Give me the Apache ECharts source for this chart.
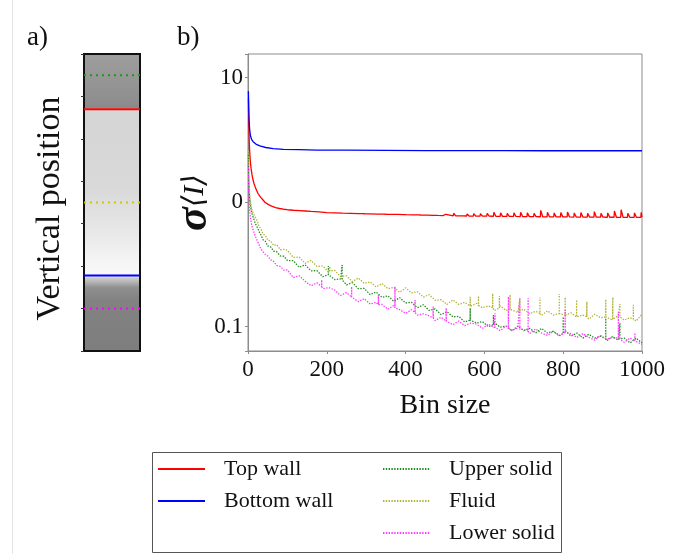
<!DOCTYPE html>
<html>
<head>
<meta charset="utf-8">
<script src="https://cdn.jsdelivr.net/npm/echarts@6/dist/echarts.min.js"></script>
<style>
html,body{margin:0;padding:0;background:#fff;}
#main{width:673px;height:554px;}
</style>
</head>
<body>
<div id="main"></div>
<script>
// ---------- DATA ----------
const seriesNames = ['Top wall', 'Bottom wall', 'Upper solid', 'Fluid', 'Lower solid'];
const xTickRange = [0, 1000, 200];
const yTickValues = [0.1, 1, 10];
const yTickLabels = ['0.1', '0', '10'];

// panel a: vertical positions (axis units 0..7, bottom = 0) of each marker line
const stripPositions = {
  'Top wall': 5.7,
  'Bottom wall': 1.78,
  'Upper solid': 6.5,
  'Fluid': 3.5,
  'Lower solid': 1.0
};

// panel b: [bin size, sigma]
const bottomWall = [[1,7.8],[2,5.4],[3,4.4],[4,3.9],[6,3.45],[9,3.2],[13,3.06],[20,2.93],[30,2.83],[45,2.75],[64,2.69],[90,2.66],[130,2.64],[175,2.62],[250,2.615],[350,2.61],[450,2.6],[550,2.6],[650,2.6],[750,2.59],[850,2.59],[950,2.595],[1000,2.59]];

const topWall = [[1,6.8],[2,4.2],[3,3.2],[4,2.65],[5,2.35],[6,2.1],[8,1.85],[10,1.68],[12,1.55],[15,1.42],[20,1.28],[25,1.18],[30,1.12],[36,1.06],[43,1.0],[51,0.96],[60,0.93],[70,0.905],[80,0.89],[90,0.878],[100,0.87],[115,0.862],[130,0.856],[145,0.85],[160,0.843],[180,0.835],[200,0.826],[220,0.821],[240,0.816],[260,0.813],[280,0.81],[290,0.809],[292,0.826],[296,0.808],[310,0.806],[330,0.803],[345,0.801],[347,0.816],[351,0.8],[365,0.799],[380,0.797],[395,0.795],[397,0.812],[401,0.794],[420,0.792],[432,0.79],[434,0.808],[438,0.789],[455,0.787],[470,0.785],[476,0.784],[478,0.802],[482,0.783],[495,0.781],[500,0.78],[502,0.8],[506,0.779],
[521,0.778],[522,0.815],[527,0.777],[538,0.776],[539,0.80],[544,0.776],[555,0.775],[556,0.805],[561,0.775],[572,0.774],[573,0.81],[578,0.774],[589,0.773],[590,0.81],[595,0.773],[606,0.772],[607,0.815],[612,0.772],[623,0.771],[624,0.83],[629,0.771],[640,0.77],[641,0.82],[646,0.77],[657,0.769],[658,0.815],[663,0.769],[674,0.768],[675,0.82],[680,0.768],[691,0.767],[692,0.83],[697,0.767],[708,0.766],[709,0.82],[714,0.766],[725,0.765],[726,0.815],[731,0.765],[742,0.764],[743,0.86],[748,0.764],[759,0.763],[760,0.83],[765,0.763],[776,0.762],[777,0.82],[782,0.762],[793,0.762],[794,0.825],[799,0.762],[810,0.761],[811,0.835],[816,0.761],[827,0.76],[828,0.82],[833,0.76],[844,0.76],[845,0.825],[850,0.76],[861,0.759],[862,0.815],[867,0.759],[878,0.758],[879,0.84],[884,0.758],[895,0.758],[896,0.815],[901,0.758],[912,0.757],[913,0.82],[918,0.757],[929,0.757],[930,0.85],[935,0.757],[946,0.756],[947,0.87],[952,0.756],[963,0.756],[964,0.815],[969,0.756],[980,0.755],[981,0.82],[986,0.755],[997,0.755],[998,0.83],[1000,0.76]];

const upperSolid = [[1,2.4],[2,1.45],[3,1.2],[4,1.08],[6,0.95],[8,0.87],[10,0.81],[13,0.76],[16,0.71],[20,0.66],[24,0.625],[28,0.58],[33,0.545],[38,0.5],[44,0.485],[50,0.445],[57,0.44],[65,0.405],[73,0.40],[82,0.37],[91,0.368],
[100,0.340],[115,0.339],[130,0.300],[145,0.314],[160,0.281],[175,0.282],[190,0.252],[204,0.262],[204,0.307],[204,0.262],[205,0.266],[220,0.239],[235,0.242],[239,0.238],[239,0.313],[239,0.238],[250,0.217],[265,0.226],[280,0.202],[295,0.203],[310,0.181],[325,0.190],[340,0.172],[355,0.177],[370,0.160],[385,0.171],[400,0.155],[415,0.157],[430,0.142],[445,0.150],[460,0.135],[475,0.139],[490,0.125],[505,0.132],[520,0.120],[535,0.121],[550,0.109],[564,0.113],[564,0.141],[564,0.113],[565,0.116],[580,0.107],[595,0.110],[610,0.100],[623,0.104],[623,0.124],[623,0.104],[625,0.108],[640,0.099],[655,0.101],[670,0.093],[685,0.101],[700,0.093],[715,0.097],[730,0.089],[745,0.097],[760,0.089],[775,0.092],[790,0.085],[800,0.088],[800,0.12],[800,0.088],[805,0.093],[820,0.084],[835,0.089],[850,0.081],[865,0.087],[880,0.081],[895,0.084],[908,0.08],[908,0.117],[908,0.08],[910,0.077],[925,0.083],[940,0.078],[944,0.08],[944,0.107],[944,0.08],[955,0.081],[970,0.074],[985,0.081],[1000,0.074]];

const fluid = [[1,2.6],[2,1.6],[3,1.3],[4,1.18],[6,1.02],[8,0.93],[10,0.87],[13,0.82],[16,0.78],[20,0.74],[24,0.70],[28,0.64],[33,0.61],[38,0.555],[44,0.54],[50,0.495],[57,0.49],[65,0.45],[73,0.455],[82,0.415],[91,0.418],
[100,0.411],[115,0.360],[130,0.362],[145,0.323],[160,0.341],[175,0.305],[190,0.307],[205,0.273],[208,0.28],[208,0.305],[208,0.28],[220,0.283],[235,0.253],[250,0.256],[265,0.230],[280,0.246],[295,0.223],[310,0.229],[325,0.209],[340,0.222],[355,0.202],[370,0.207],[385,0.189],[400,0.205],[415,0.187],[430,0.191],[445,0.173],[460,0.181],[475,0.163],[490,0.165],[505,0.151],[520,0.164],[535,0.151],[550,0.157],[564,0.146],[564,0.174],[564,0.146],[565,0.144],[580,0.154],[585,0.148],[585,0.176],[585,0.148],[595,0.142],[610,0.147],[621,0.142],[621,0.185],[621,0.142],[625,0.135],[638,0.141],[638,0.176],[638,0.141],[640,0.147],[655,0.135],[665,0.138],[665,0.18],[665,0.138],[670,0.140],[685,0.130],[690,0.134],[690,0.169],[690,0.134],[700,0.138],[715,0.127],[730,0.133],[741,0.128],[741,0.172],[741,0.128],[745,0.123],[760,0.134],[775,0.124],[790,0.128],[790,0.183],[790,0.128],[805,0.124],[805,0.172],[805,0.124],[820,0.129],[834,0.12],[834,0.164],[834,0.12],[835,0.119],[850,0.124],[860,0.12],[860,0.159],[860,0.12],[865,0.115],[880,0.126],[895,0.118],[908,0.12],[908,0.166],[908,0.12],[910,0.123],[925,0.113],[926,0.115],[926,0.172],[926,0.115],[940,0.123],[944,0.12],[944,0.152],[944,0.12],[955,0.113],[970,0.118],[978,0.115],[978,0.15],[978,0.115],[985,0.111],[1000,0.126]];

const lowerSolid = [[1,2.0],[2,1.2],[3,0.98],[4,0.88],[6,0.76],[8,0.69],[10,0.64],[13,0.6],[16,0.56],[20,0.52],[24,0.485],[28,0.455],[33,0.42],[38,0.41],[44,0.38],[50,0.37],[57,0.345],[65,0.335],[73,0.31],[82,0.305],[91,0.285],
[100,0.286],[115,0.248],[130,0.257],[145,0.232],[160,0.213],[175,0.225],[187,0.21],[187,0.237],[187,0.21],[190,0.202],[205,0.206],[220,0.197],[235,0.178],[250,0.188],[263,0.173],[263,0.21],[263,0.173],[265,0.171],[280,0.159],[295,0.168],[310,0.152],[325,0.157],[331,0.15],[331,0.18],[331,0.15],[340,0.151],[355,0.138],[370,0.148],[373,0.142],[373,0.21],[373,0.142],[385,0.137],[400,0.128],[415,0.137],[424,0.13],[424,0.164],[424,0.13],[430,0.124],[445,0.127],[460,0.122],[470,0.118],[470,0.145],[470,0.118],[475,0.112],[490,0.119],[503,0.111],[503,0.141],[503,0.111],[505,0.110],[520,0.104],[535,0.111],[550,0.102],[565,0.107],[580,0.105],[595,0.097],[610,0.105],[625,0.098],[627,0.099],[627,0.128],[627,0.099],[640,0.093],[655,0.101],[661,0.097],[661,0.174],[661,0.097],[670,0.093],[685,0.098],[690,0.095],[690,0.169],[690,0.095],[700,0.095],[711,0.092],[711,0.169],[711,0.092],[715,0.088],[730,0.096],[745,0.089],[760,0.085],[775,0.092],[790,0.084],[805,0.09],[805,0.136],[805,0.09],[820,0.088],[835,0.082],[850,0.088],[865,0.082],[880,0.078],[895,0.085],[910,0.079],[925,0.082],[940,0.081],[940,0.132],[940,0.081],[955,0.075],[970,0.081],[982,0.077],[982,0.089],[982,0.077],[985,0.075],[1000,0.072]];

// ---------- STYLE ----------
const serif = "'Liberation Serif', 'DejaVu Serif', serif";
const colors = {
  'Top wall': '#ff0000',
  'Bottom wall': '#0000ff',
  'Upper solid': '#1f8c1f',
  'Fluid': '#b3b336',
  'Lower solid': '#ff3cff'
};
const stripColors = {
  'Top wall': '#ff0000',
  'Bottom wall': '#0000ff',
  'Upper solid': '#1a9a1a',
  'Fluid': '#cccc00',
  'Lower solid': '#ff00ff'
};
const dottedNames = ['Upper solid', 'Fluid', 'Lower solid'];
const plotData = {
  'Top wall': topWall,
  'Bottom wall': bottomWall,
  'Upper solid': upperSolid,
  'Fluid': fluid,
  'Lower solid': lowerSolid
};

const chart = echarts.init(document.getElementById('main'), null, {renderer: 'canvas'});

const plotSeries = seriesNames.map(n => ({
  name: n,
  type: 'line',
  xAxisIndex: 0,
  yAxisIndex: 0,
  data: plotData[n],
  symbol: 'none',
  silent: true,
  z: dottedNames.includes(n) ? 2 : 3,
  lineStyle: dottedNames.includes(n)
    ? {color: colors[n], width: 1.3, type: [1.4, 1.4]}
    : {color: colors[n], width: 1.3, type: 'solid'},
  itemStyle: {color: colors[n]}
}));

const stripSeries = seriesNames.map(n => ({
  name: 'strip ' + n,
  type: 'line',
  xAxisIndex: 1,
  yAxisIndex: 1,
  data: [[0, stripPositions[n]], [1, stripPositions[n]]],
  symbol: 'none',
  silent: true,
  lineStyle: dottedNames.includes(n)
    ? {color: stripColors[n], width: 2, type: [2, 4]}
    : {color: stripColors[n], width: 2, type: 'solid'}
}));

const stripGradient = new echarts.graphic.LinearGradient(0, 0, 0, 1, [
  {offset: 0, color: '#9e9e9e'},
  {offset: 0.155, color: '#8f8f8f'},
  {offset: 0.183, color: '#8a8a8a'},
  {offset: 0.187, color: '#d5d5d5'},
  {offset: 0.458, color: '#d9d9d9'},
  {offset: 0.61, color: '#e9e9e9'},
  {offset: 0.70, color: '#f5f5f5'},
  {offset: 0.744, color: '#f8f8f8'},
  {offset: 0.753, color: '#cccccc'},
  {offset: 0.785, color: '#8f8f8f'},
  {offset: 0.828, color: '#828282'},
  {offset: 1, color: '#7e7e7e'}
]);

const legendCommon = {
  orient: 'vertical',
  itemWidth: 47,
  itemHeight: 14,
  itemGap: 10,
  padding: 0,
  selectedMode: false,
  itemStyle: {opacity: 0},
  textStyle: {fontFamily: serif, fontSize: 22, lineHeight: 22, color: '#111', padding: [0, 0, 0, 14]}
};

const option = {
  backgroundColor: '#ffffff',
  animation: false,
  textStyle: {fontFamily: serif},
  grid: [
    {left: 248, top: 54, width: 394, height: 297, show: true, borderColor: '#8c8c8c', borderWidth: 1, backgroundColor: 'transparent'},
    {left: 84, top: 54, width: 56, height: 297, show: true, borderColor: '#111111', borderWidth: 2, backgroundColor: stripGradient}
  ],
  xAxis: [
    {
      gridIndex: 0, type: 'value', min: xTickRange[0], max: xTickRange[1], interval: xTickRange[2],
      name: 'Bin size', nameLocation: 'middle', nameGap: 41,
      nameTextStyle: {fontFamily: serif, fontSize: 28, color: '#111'},
      axisLine: {show: true, lineStyle: {color: '#8c8c8c', width: 1}},
      axisTick: {show: true, length: 3, lineStyle: {color: '#8c8c8c'}},
      axisLabel: {fontFamily: serif, fontSize: 23, color: '#111', margin: 7, formatter: v => String(v)},
      splitLine: {show: false}
    },
    {gridIndex: 1, type: 'value', min: 0, max: 1, show: false}
  ],
  yAxis: [
    {
      gridIndex: 0, type: 'log', logBase: 10, min: 0.0638, max: 15.5,
      name: '{s|σ}{i|⟨I⟩}', nameLocation: 'middle', nameRotate: 90, nameGap: 31,
      nameMoveOverlap: false,
      nameTextStyle: {
        rich: {
          s: {fontFamily: serif, fontSize: 44, fontWeight: 'bold', fontStyle: 'italic', color: '#111'},
          i: {fontFamily: serif, fontSize: 30, fontStyle: 'italic', color: '#111'}
        }
      },
      axisLine: {show: true, lineStyle: {color: '#8c8c8c', width: 1}},
      axisTick: {show: true, length: 3, lineStyle: {color: '#8c8c8c'}},
      axisLabel: {
        fontFamily: serif, fontSize: 23, color: '#111', margin: 5,
        formatter: function (v) {
          for (let k = 0; k < yTickValues.length; k++) {
            if (Math.abs(v - yTickValues[k]) < yTickValues[k] * 1e-6) return yTickLabels[k];
          }
          return '';
        }
      },
      splitLine: {show: false}
    },
    {
      gridIndex: 1, type: 'value', min: 0, max: 7, interval: 1,
      name: 'Vertical position', nameLocation: 'middle', nameRotate: 90, nameGap: 17,
      nameTextStyle: {fontFamily: serif, fontSize: 34, color: '#111', padding: [0, 12, 0, 0]},
      axisLine: {show: false},
      axisTick: {show: true, length: 3, lineStyle: {color: '#333', width: 1}},
      axisLabel: {show: false},
      splitLine: {show: false}
    }
  ],
  legend: [
    Object.assign({}, legendCommon, {left: 157, top: 458, data: seriesNames.slice(0, 2)}),
    Object.assign({}, legendCommon, {left: 382, top: 458, data: seriesNames.slice(2)})
  ],
  graphic: [
    {type: 'line', shape: {x1: 12.5, y1: 0, x2: 12.5, y2: 554}, style: {stroke: '#e4e4e4', lineWidth: 1}, silent: true},
    {type: 'rect', shape: {x: 152.5, y: 452.5, width: 409, height: 100}, style: {fill: 'none', stroke: '#555', lineWidth: 1}, silent: true, z: -1},
    {type: 'text', left: 27, top: 24, style: {text: 'a)', fontFamily: serif, fontSize: 27, fill: '#111'}},
    {type: 'text', left: 177, top: 24, style: {text: 'b)', fontFamily: serif, fontSize: 27, fill: '#111'}}
  ],
  series: plotSeries.concat(stripSeries)
};

chart.setOption(option);
</script>
</body>
</html>
